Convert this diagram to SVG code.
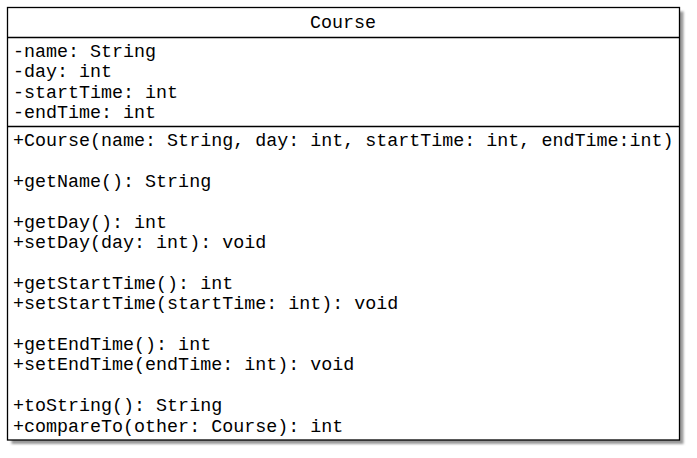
<svg xmlns="http://www.w3.org/2000/svg" width="697" height="458" viewBox="0 0 697 458">
<style>
.t{font-family:"Liberation Mono","DejaVu Sans Mono",monospace;font-size:18.35px;fill:#000}
.b{fill:#fff;stroke:#000;stroke-width:1.3}
.l{stroke:#000;stroke-width:1.3}
</style>
<defs>
<filter id="sh" x="-5%" y="-5%" width="110%" height="110%"><feGaussianBlur stdDeviation="1.2"/></filter>
</defs>
<g id="Course">
<rect x="11.5" y="11.5" width="672" height="432.5" fill="#999" filter="url(#sh)"/>
<rect class="b" x="7.5" y="7.5" width="672" height="432.5"/>
<line class="l" x1="7.5" y1="37.5" x2="679.5" y2="37.5"/>
<line class="l" x1="7.5" y1="126.5" x2="679.5" y2="126.5"/>
<text class="t" x="343" y="28" text-anchor="middle">Course</text>
<text class="t" x="13" y="57">-name: String</text>
<text class="t" x="13" y="77.4">-day: int</text>
<text class="t" x="13" y="97.8">-startTime: int</text>
<text class="t" x="13" y="118.2">-endTime: int</text>
<text class="t" x="13" y="146">+Course(name: String, day: int, startTime: int, endTime:int)</text>
<text class="t" x="13" y="186.8">+getName(): String</text>
<text class="t" x="13" y="227.6">+getDay(): int</text>
<text class="t" x="13" y="248">+setDay(day: int): void</text>
<text class="t" x="13" y="288.8">+getStartTime(): int</text>
<text class="t" x="13" y="309.2">+setStartTime(startTime: int): void</text>
<text class="t" x="13" y="350">+getEndTime(): int</text>
<text class="t" x="13" y="370.4">+setEndTime(endTime: int): void</text>
<text class="t" x="13" y="411.2">+toString(): String</text>
<text class="t" x="13" y="431.6">+compareTo(other: Course): int</text>
</g>
</svg>
